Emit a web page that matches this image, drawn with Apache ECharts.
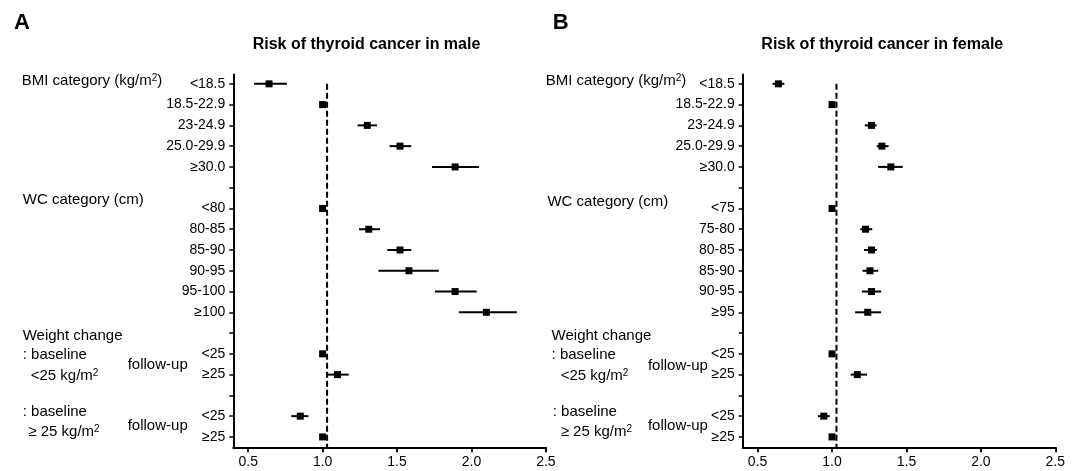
<!DOCTYPE html>
<html><head><meta charset="utf-8">
<script src="https://cdn.jsdelivr.net/npm/echarts@6/dist/echarts.min.js"></script>
<style>html,body{margin:0;padding:0;background:#fff}#c{width:1077px;height:471px}</style>
</head><body><div id="c"></div>
<script>
// ---- data ----
const maleLabels = ['<18.5','18.5-22.9','23-24.9','25.0-29.9','≥30.0','','<80','80-85','85-90','90-95','95-100','≥100','','<25','≥25','','<25','≥25'];
const femaleLabels = ['<18.5','18.5-22.9','23-24.9','25.0-29.9','≥30.0','','<75','75-80','80-85','85-90','90-95','≥95','','<25','≥25','','<25','≥25'];
const maleHR   = [0.64, 1.00, 1.30, 1.52, 1.89, null, 1.00, 1.31, 1.52, 1.58, 1.89, 2.10, null, 1.00, 1.10, null, 0.85, 1.00];
const maleLow  = [0.54, null, 1.235,1.45, 1.735,null, null, 1.245,1.435,1.375,1.755,1.915,null, null, 1.035,null, 0.79, null];
const maleHigh = [0.76, null, 1.365,1.595,2.05, null, null, 1.385,1.595,1.78, 2.035,2.305,null, null, 1.175,null, 0.905,null];
const femaleHR   = [0.64, 1.00, 1.265,1.335,1.395,null, 1.00, 1.225,1.265,1.255,1.265,1.24, null, 1.00, 1.17, null, 0.945,1.00];
const femaleLow  = [0.60, null, 1.22, 1.30, 1.31, null, null, 1.19, 1.215,1.205,1.20, 1.155,null, null, 1.125,null, 0.905,null];
const femaleHigh = [0.68, null, 1.30, 1.38, 1.475,null, null, 1.27, 1.30, 1.31, 1.33, 1.33, null, null, 1.235,null, 0.985,null];
const xTicks = [0.5, 1.0, 1.5, 2.0, 2.5];
const refValue = 1.03;
const titles = ['Risk of thyroid cancer in male', 'Risk of thyroid cancer in female'];
const panelLetters = ['A', 'B'];

// ---- style ----
const FONT = "'Liberation Sans', Arial, Helvetica, sans-serif";
const INK = '#000';
const rowIdx = maleLabels.map((_, i) => i);

function xAxisOpt(gi) {
  return {
    type: 'value', gridIndex: gi, min: 0.4, max: 2.5,
    axisLine: { onZero: false, lineStyle: { color: INK, width: 2 } },
    axisTick: { customValues: xTicks, length: 5, lineStyle: { color: INK, width: 2 } },
    axisLabel: { customValues: xTicks, formatter: v => Number(v).toFixed(1), fontSize: 14, fontFamily: FONT, color: INK, margin: 8 },
    splitLine: { show: false }
  };
}
function yAxisOpt(gi, labels) {
  return {
    type: 'value', gridIndex: gi, inverse: true, min: -0.45, max: 17.5,
    axisLine: { show: true, onZero: false, lineStyle: { color: INK, width: 2 } },
    axisTick: { show: true, customValues: rowIdx, length: 4, lineStyle: { color: INK, width: 1.5 } },
    axisLabel: { show: true, customValues: rowIdx, formatter: v => labels[Math.round(v)] || '', fontSize: 14, fontFamily: FONT, color: INK, margin: 8 },
    splitLine: { show: false }
  };
}
function ciSeries(gi, lows, highs) {
  const data = [];
  lows.forEach((l, i) => { if (l != null) data.push([l, highs[i], i]); });
  return {
    type: 'custom', xAxisIndex: gi, yAxisIndex: gi, data, silent: true, z: 2,
    encode: { x: [0, 1], y: 2 },
    renderItem(params, api) {
      const p1 = api.coord([api.value(0), api.value(2)]);
      const p2 = api.coord([api.value(1), api.value(2)]);
      return { type: 'line', shape: { x1: p1[0], y1: p1[1], x2: p2[0], y2: p2[1] }, style: { stroke: INK, lineWidth: 2 } };
    }
  };
}
function pointSeries(gi, hr) {
  const data = [];
  hr.forEach((v, i) => { if (v != null) data.push([v, i]); });
  return { type: 'scatter', xAxisIndex: gi, yAxisIndex: gi, data, symbol: 'rect', symbolSize: 7, itemStyle: { color: INK, opacity: 1 }, silent: true, z: 3 };
}
function refSeries(gi) {
  return { type: 'line', xAxisIndex: gi, yAxisIndex: gi, data: [[refValue, 0], [refValue, 17.5]], symbol: 'none', silent: true, z: 1,
    lineStyle: { color: INK, width: 2, type: [6, 3] } };
}

const sup = { s: { fontSize: 10, fontFamily: FONT, fill: INK, verticalAlign: 'top', lineHeight: 10 } };
function txt(x, y, text, opts) {
  opts = opts || {};
  return { type: 'text', x, y, silent: true, style: Object.assign({
    text, fontSize: opts.size || 15, fontWeight: opts.weight || 'normal', fontFamily: FONT, fill: INK,
    align: opts.align || 'left', verticalAlign: 'middle', rich: sup
  }, opts.extra || {}) };
}

const grids = [
  { left: 233.3, top: 74.5, width: 312.6, height: 372.8 },
  { left: 742.7, top: 74.5, width: 312.6, height: 372.8 }
];

const graphics = [
  txt(14, 23, panelLetters[0], { size: 22, weight: 'bold' }),
  txt(366.5, 45, titles[0], { size: 16, weight: 'bold', align: 'center' }),
  txt(21.7, 81, 'BMI category (kg/m{s|2})'),
  txt(22.8, 200, 'WC category (cm)'),
  txt(22.7, 336, 'Weight change'),
  txt(22.7, 354.5, ': baseline'),
  txt(30.7, 376, '<25 kg/m{s|2}'),
  txt(127.7, 365, 'follow-up'),
  txt(22.7, 412, ': baseline'),
  txt(28.3, 431.7, '≥ 25 kg/m{s|2}'),
  txt(127.7, 425.5, 'follow-up'),

  txt(552.7, 23, panelLetters[1], { size: 22, weight: 'bold' }),
  txt(882.3, 45, titles[1], { size: 16, weight: 'bold', align: 'center' }),
  txt(545.7, 81, 'BMI category (kg/m{s|2})'),
  txt(547.4, 201.5, 'WC category (cm)'),
  txt(551.6, 336, 'Weight change'),
  txt(551.6, 354.5, ': baseline'),
  txt(560.7, 376, '<25 kg/m{s|2}'),
  txt(647.9, 366, 'follow-up'),
  txt(552.7, 412, ': baseline'),
  txt(560.7, 431.7, '≥ 25 kg/m{s|2}'),
  txt(647.9, 425.5, 'follow-up')
];

const chart = echarts.init(document.getElementById('c'), null, { renderer: 'canvas' });
chart.setOption({
  backgroundColor: '#fff',
  animation: false,
  grid: grids,
  xAxis: [xAxisOpt(0), xAxisOpt(1)],
  yAxis: [yAxisOpt(0, maleLabels), yAxisOpt(1, femaleLabels)],
  graphic: graphics,
  series: [
    refSeries(0), ciSeries(0, maleLow, maleHigh), pointSeries(0, maleHR),
    refSeries(1), ciSeries(1, femaleLow, femaleHigh), pointSeries(1, femaleHR)
  ]
});
</script></body></html>
